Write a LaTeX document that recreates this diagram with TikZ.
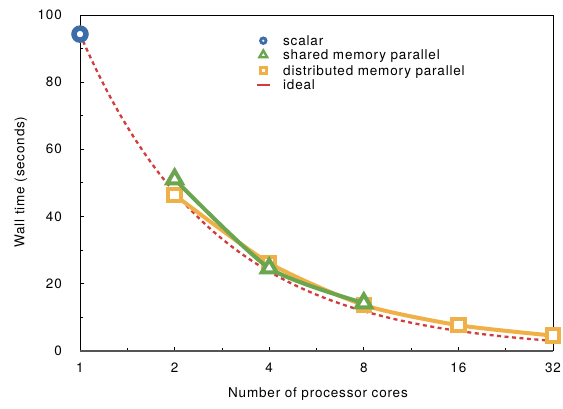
\documentclass[tikz,border=0pt]{standalone}
\usepackage{fontspec}
\setmainfont{TeX Gyre Heros}[LetterSpace=6]
\usetikzlibrary{shapes.geometric}
\definecolor{cblue}{RGB}{59,110,168}
\definecolor{cgreen}{RGB}{106,165,80}
\definecolor{corange}{RGB}{240,176,72}
\definecolor{cred}{RGB}{210,60,60}
\definecolor{caxis}{RGB}{85,85,85}
\tikzset{
  circmark/.style={circle, draw=cblue, line width=5.5pt, fill=white, minimum size=12pt, inner sep=0pt},
  trimark/.style={regular polygon, regular polygon sides=3, draw=cgreen, line width=4pt, fill=white, minimum size=17pt, inner sep=0pt},
  sqmark/.style={rectangle, draw=corange, line width=4pt, fill=white, minimum size=12.5pt, inner sep=0pt},
  lcirc/.style={circle, draw=cblue, line width=2.8pt, fill=white, minimum size=5.5pt, inner sep=0pt},
  ltri/.style={regular polygon, regular polygon sides=3, draw=cgreen, line width=2.4pt, fill=white, minimum size=9pt, inner sep=0pt},
  lsq/.style={rectangle, draw=corange, line width=2.8pt, fill=white, minimum size=6pt, inner sep=0pt},
  ticklab/.style={inner sep=0pt},
  idealline/.style={cred, line width=2.3pt, dash pattern=on 4pt off 3.5pt},
  greenline/.style={cgreen, line width=4pt, line join=round},
  orangeline/.style={corange, line width=4pt, line join=round},
}
\begin{document}
\begin{tikzpicture}[x=1pt,y=1pt, font=\fontsize{13.5}{16}\selectfont]
\useasboundingbox (0,0) rectangle (563,408);
\begin{scope}[shift={(80,57.3)}, x=94.6pt, y=3.357pt]
  % ticks
  \foreach \t in {0,...,5} \draw[line width=0.8pt] (\t,0) -- ++(0,3.5pt);
  \foreach \t in {0.5,1.5,...,4.5} \draw[line width=0.8pt] (\t,0) -- ++(0,3pt);
  \foreach \v in {20,40,...,80} \draw[line width=0.8pt] (0,\v) -- ++(3.5pt,0);
  \foreach \v in {10,30,...,90} \draw[line width=0.8pt] (0,\v) -- ++(3pt,0);
  % frame
  \draw[line width=0.9pt] (0,0) rectangle (5,100);
  \draw[line width=1.6pt, caxis] (0,0) -- (5,0);
  % tick labels
  \foreach \t/\lab in {0/1,1/2,2/4,3/8,4/16,5/32}
    \node[ticklab, anchor=base] (xl\lab) at (\t,0) [yshift=-21.3pt] {\lab};
  \foreach \v in {0,20,...,100}
    \node[ticklab, anchor=east] (yl\v) at (0,\v) [xshift=-18pt] {\v};
  % ideal
  \draw[idealline] plot[domain=0:5, samples=80, smooth] (\x, {94.3*2^(-\x)});
  % distributed
  \draw[orangeline] plot[smooth, tension=0.4] coordinates {(1,46.4) (2,26.1) (3,13.6) (4,7.6) (5,4.5)};
  \node[sqmark] (d2) at (1,46.4) {};
  \node[sqmark] (d4) at (2,26.1) {};
  \node[sqmark] (d8) at (3,13.6) {};
  \node[sqmark] (d16) at (4,7.6) {};
  \node[sqmark] (d32) at (5,4.5) {};
  % shared
  \draw[greenline] plot[smooth, tension=0.4] coordinates {(1,51.1) (2,24.6) (3,14.2)};
  \node[trimark] (s2) at (1,51.1) {};
  \node[trimark] (s4) at (2,24.6) {};
  \node[trimark] (s8) at (3,14.2) {};
  % scalar
  \node[circmark] (sc1) at (0,94.3) {};
\end{scope}
% axis titles
\node[inner sep=0pt, anchor=base] (xtitle) at (318,11) {Number of processor cores};
\node[inner sep=0pt, rotate=90] (ytitle) at (21,226) {Wall time (seconds)};
% legend
\node[lcirc] (lg1) at (263.3,367.3) {};
\node[ltri] (lg2) at (263.3,353) {};
\node[lsq] (lg3) at (263.3,337.3) {};
\coordinate (lg4a) at (257,323);
\coordinate (lg4b) at (269.5,323);
\draw[cred, line width=2.3pt] (lg4a) -- (lg4b);
\node[inner sep=0pt, anchor=base west] (lt1) at (283,362.8) {scalar};
\node[inner sep=0pt, anchor=base west] (lt2) at (283,348.5) {shared memory parallel};
\node[inner sep=0pt, anchor=base west] (lt3) at (283,332.8) {distributed memory parallel};
\node[inner sep=0pt, anchor=base west] (lt4) at (283,318.5) {ideal};
\end{tikzpicture}
\end{document}
